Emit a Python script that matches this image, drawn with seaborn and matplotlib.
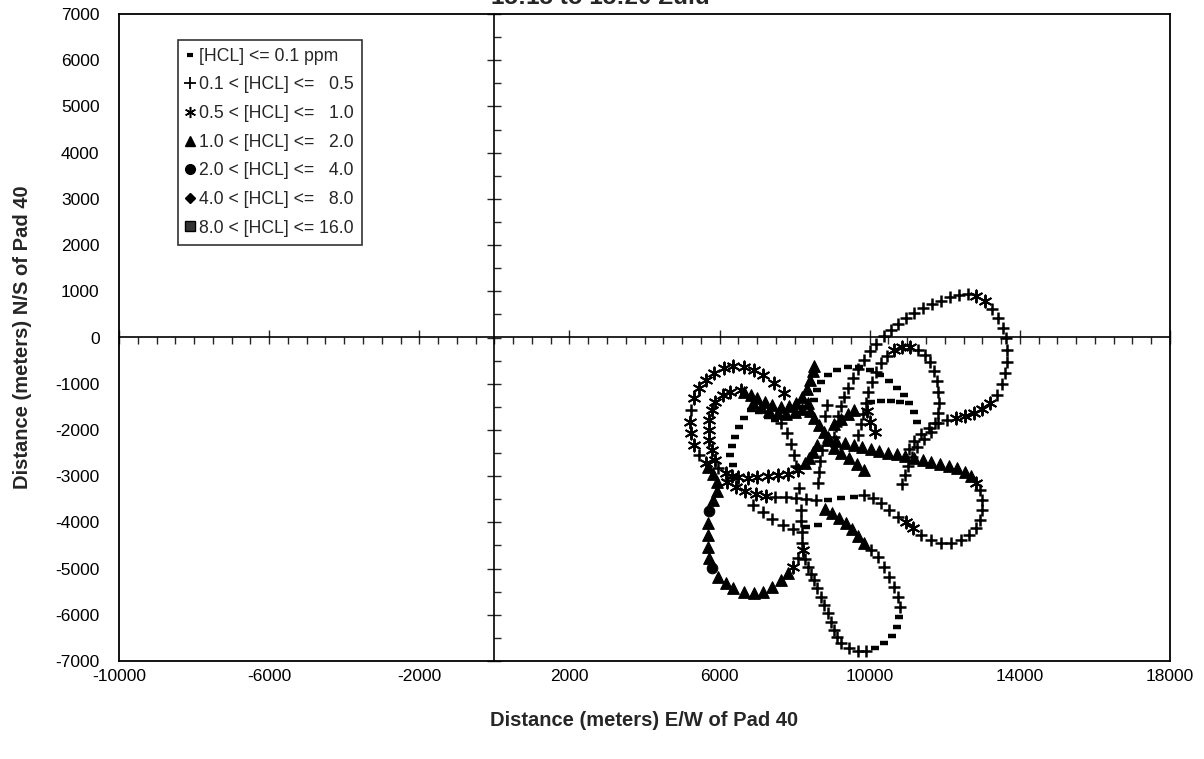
import matplotlib
matplotlib.use("Agg")
import matplotlib.pyplot as plt
from matplotlib.lines import Line2D
from matplotlib.ticker import MultipleLocator
import seaborn as sns

# [HCL] <= 0.1 ppm
le01_x = [8510, 8590, 8690, 8880, 9120, 9410, 9710, 10000, 10270, 10510, 10720, 10910, 11040, 11170, 11250,
          10030, 10290, 10560, 10800,
          7490, 7280, 7040, 6830, 6640, 6510, 6400, 6320, 6290, 6350,
          9570, 9230, 8880,
          8290, 8610,
          10130, 10370, 10590, 10720, 10770]
le01_y = [-1360, -1145, -972, -821, -713, -648, -648, -713, -821, -950, -1102, -1253, -1426, -1620, -1836,
          -1390, -1370, -1370, -1400,
          -1793, -1728, -1620, -1577, -1750, -1944, -2160, -2354, -2549, -2765,
          -3450, -3470, -3510,
          -4104, -4061,
          -6718, -6610, -6458, -6264, -6048]

# 0.1 < [HCL] <= 0.5
r05_x = [9040, 9090, 9150, 9230, 9320, 9430, 9560, 9700, 9850, 10010, 10180, 10370, 10560, 10760, 10970,
         11190, 11420, 11650, 11890, 12130, 12370, 12610,
         13260, 13420, 13550, 13630, 13670, 13650, 13600, 13520, 13390,
         12050, 11810, 11580, 11370, 11180, 11040,
         9700, 9770, 9830, 9890, 9960, 10050, 10160, 10290, 10450, 11280, 11460, 11610, 11720, 11790,
         11830, 11840, 11820, 11750, 11620, 11440, 11250, 11120, 11020, 10930, 10850,
         12930, 12990, 12990, 12930, 12830, 12640, 12430, 12160, 11890, 11630, 11360,
         10750, 10510, 10290, 10080, 9840, 8560, 8290, 8030, 7760, 7490,
         8280, 8350, 8430, 8510, 8600, 8690, 8790, 8880, 8960, 9040, 9130, 9230, 9440, 9680, 9890,
         10800, 10750, 10640, 10510, 10370, 10210, 10030,
         8080,
         8850, 8800, 8720, 8670, 8640, 8610,
         7630, 7790, 7890, 7970, 8030, 8110, 8160, 8160, 8190, 8190,
         6880, 7150, 7410, 7680, 7950,
         5230, 5440, 5970]
r05_y = [-2160, -1920, -1700, -1490, -1290, -1090, -880, -680, -480, -300, -130, 30, 170, 300, 420,
         530, 630, 720, 800, 870, 920, 950,
         620, 430, 210, -20, -270, -520, -770, -1010, -1240,
         -1790, -1860, -1960, -2090, -2240, -2420,
         -2100, -1880, -1650, -1420, -1190, -960, -740, -550, -390, -260, -370, -530, -730, -950,
         -1180, -1410, -1640, -1860, -2050, -2200, -2380, -2580, -2780, -2980, -3180,
         -3310, -3520, -3740, -3950, -4130, -4280, -4385, -4450, -4450, -4385, -4277,
         -3888, -3737, -3586, -3478, -3400, -3520, -3500, -3480, -3460, -3450,
         -4790, -4970, -5110, -5250, -5430, -5616, -5790, -5962, -6150, -6329, -6480, -6610, -6718, -6782, -6782,
         -5832, -5616, -5400, -5184, -4968, -4752, -4601,
         -4774,
         -1469, -1706, -2441, -2678, -2916, -3154,
         -1858, -2074, -2311, -2549, -2786, -3262, -3737, -3974, -4212, -4450,
         -3629, -3780, -3931, -4061, -4147,
         -1577, -2549, -2830]

# 0.5 < [HCL] <= 1.0
r10_x = [12840, 13060, 13210, 13000, 12770, 12530, 12290,
         10640, 10850, 11070,
         12830, 11150, 10960, 7230, 6960, 6690, 6430, 6210,
         7950, 8210,
         7710, 7440, 7170, 6910, 6640, 6370, 6110, 5840, 5630, 5440, 5310, 5200, 5230, 5310, 5630,
         6560, 6290, 6080, 5890, 5790, 5710, 5710, 5710, 5790, 5870, 6160, 6320, 6480, 6750, 7010,
         7280, 7550, 7810, 8080,
         9920, 10000, 10130]
r10_y = [900, 780, -1420, -1550, -1640, -1700, -1740,
         -280, -210, -200,
         -3140, -4126, -3996, -3430, -3390, -3330, -3240, -3130,
         -4968, -4601,
         -1210, -994, -821, -713, -648, -626, -670, -778, -929, -1100, -1318, -1836, -2074, -2333, -2722,
         -1145, -1188, -1253, -1404, -1577, -1793, -2009, -2225, -2441, -2657, -2938, -2990, -3024, -3046, -3024,
         -3002, -2981, -2959, -2873,
         -1600, -1820, -2050]

# 1.0 < [HCL] <= 2.0
r20_x = [8880, 9110, 9340, 9570, 9800, 10030, 10260, 10490, 10720, 10950, 11180, 11410, 11640, 11870,
         12100, 12320, 12530, 12700,
         9840, 9680, 9520, 9360, 9180, 9000, 8800,
         5680, 5830, 5940, 5920, 5820, 5680, 5680, 5680, 5710, 5970, 6160, 6370, 6640, 6910, 7170,
         7410, 7630, 7810,
         6640, 6830, 7010, 7200, 7410, 7630, 7840, 8030, 8190, 8320, 8400, 8480, 8510,
         6900, 7100, 7320, 7550, 7780, 8000, 8200, 8350,
         8420, 8510, 8640, 8770, 8880,
         8590, 8480, 8370, 8270,
         9040, 9230, 9410, 9570,
         9050, 9230, 9440, 9650, 9840]
r20_y = [-2160, -2230, -2290, -2333, -2370, -2410, -2455, -2490, -2520, -2560, -2600, -2640, -2685, -2730,
         -2770, -2830, -2910, -3000,
         -4450, -4300, -4150, -4020, -3900, -3800, -3720,
         -2810, -2960, -3130, -3320, -3520, -4010, -4277, -4536, -4774, -5184, -5314, -5422, -5508, -5530, -5508,
         -5400, -5249, -5098,
         -1188, -1253, -1318, -1404, -1469, -1512, -1490, -1426, -1296, -1123, -929, -734, -626,
         -1420, -1510, -1590, -1640, -1660, -1620, -1550, -1420,
         -1600, -1750, -1900, -2050, -2225,
         -2333, -2484, -2614, -2722,
         -1880, -1771, -1663, -1577,
         -2400, -2500, -2614, -2743, -2873]

# 2.0 < [HCL] <= 4.0
r40_x = [5720, 5810]
r40_y = [-3760, -4990]

legend_labels = ["[HCL] <= 0.1 ppm", "0.1 < [HCL] <=   0.5", "0.5 < [HCL] <=   1.0",
                 "1.0 < [HCL] <=   2.0", "2.0 < [HCL] <=   4.0", "4.0 < [HCL] <=   8.0",
                 "8.0 < [HCL] <= 16.0"]

sns.set_style("white")
plt.rcParams["font.family"] = ["Liberation Sans", "DejaVu Sans"]
plt.rcParams["axes.unicode_minus"] = False

fig = plt.figure(figsize=(12.04, 7.59), dpi=100)
ax = fig.add_axes([119 / 1204, 1 - 661 / 759, 1051 / 1204, 647 / 759])

asterisk = (6, 2, 0)
sns.scatterplot(x=le01_x, y=le01_y, marker="_", s=32, color="black", linewidth=3.2, ax=ax, zorder=3)
sns.scatterplot(x=r05_x, y=r05_y, marker="+", s=85, color="black", linewidth=1.8, ax=ax, zorder=3)
sns.scatterplot(x=r10_x, y=r10_y, marker=asterisk, s=75, color="black", linewidth=1.4, ax=ax, zorder=3)
sns.scatterplot(x=r20_x, y=r20_y, marker="^", s=70, color="black", edgecolor="black", linewidth=0.8,
                ax=ax, zorder=3)
sns.scatterplot(x=r40_x, y=r40_y, marker="o", s=60, color="black", edgecolor="black", ax=ax, zorder=3)

ax.set_xlim(-10000, 18000)
ax.set_ylim(-7000, 7000)
ax.set_xticks(range(-10000, 18001, 4000))
ax.set_yticks(range(-7000, 7001, 1000))
ax.tick_params(length=0, labelsize=12.5, colors="black")
ax.tick_params(axis="y", pad=14)
ax.tick_params(axis="x", pad=6)
for sp in ax.spines.values():
    sp.set_color("black")
    sp.set_linewidth(1.3)

# axes crossing through the origin
secx = ax.secondary_xaxis(0.5)
secx.set_xticks(range(-10000, 18001, 4000))
secx.xaxis.set_minor_locator(MultipleLocator(500))
secx.tick_params(which="major", direction="inout", length=10, width=1, labeltop=False, labelbottom=False)
secx.tick_params(which="minor", direction="in", length=5, width=1)
secy = ax.secondary_yaxis(10000 / 28000)
secy.set_yticks(range(-7000, 7001, 1000))
secy.yaxis.set_minor_locator(MultipleLocator(500))
secy.tick_params(which="major", direction="inout", length=10, width=1, labelleft=False, labelright=False)
secy.tick_params(which="minor", direction="in", length=5, width=1)
for s in (secx, secy):
    for sp in s.spines.values():
        sp.set_color("black")
        sp.set_linewidth(1.2)

ax.set_xlabel("Distance (meters) E/W of Pad 40", fontsize=14.5, fontweight="bold")
ax.set_ylabel("Distance (meters) N/S of Pad 40", fontsize=14.5, fontweight="bold")
ax.xaxis.set_label_coords(0.5, -0.077)
ax.yaxis.set_label_coords(-0.083, 0.5)

# title sits partly above the page edge, as in the scanned original
fig.text(0.499, 1 - 4 / 759, "15:15 to 15:20 Zulu", ha="center", va="baseline",
         fontsize=17.5, fontweight="bold")

handles = [
    Line2D([], [], ls="none", marker="_", color="black", markersize=5, markeredgewidth=3),
    Line2D([], [], ls="none", marker="+", color="black", markersize=8, markeredgewidth=1.3),
    Line2D([], [], ls="none", marker=asterisk, color="black", markersize=8, markeredgewidth=1.1),
    Line2D([], [], ls="none", marker="^", color="black", markersize=7),
    Line2D([], [], ls="none", marker="o", color="black", markersize=7),
    Line2D([], [], ls="none", marker="D", color="black", markersize=5),
    Line2D([], [], ls="none", marker="s", color="#333333", markeredgecolor="black", markersize=7),
]
leg = ax.legend(handles, legend_labels, loc="upper left", bbox_to_anchor=(0.056, 0.96),
                fontsize=12.7, frameon=True, fancybox=False, handlelength=0.5, handletextpad=0.25,
                labelspacing=0.66, borderpad=0.45, borderaxespad=0)
leg.get_frame().set_edgecolor("black")
leg.get_frame().set_linewidth(1.2)

fig.savefig("out.png", dpi=100)
